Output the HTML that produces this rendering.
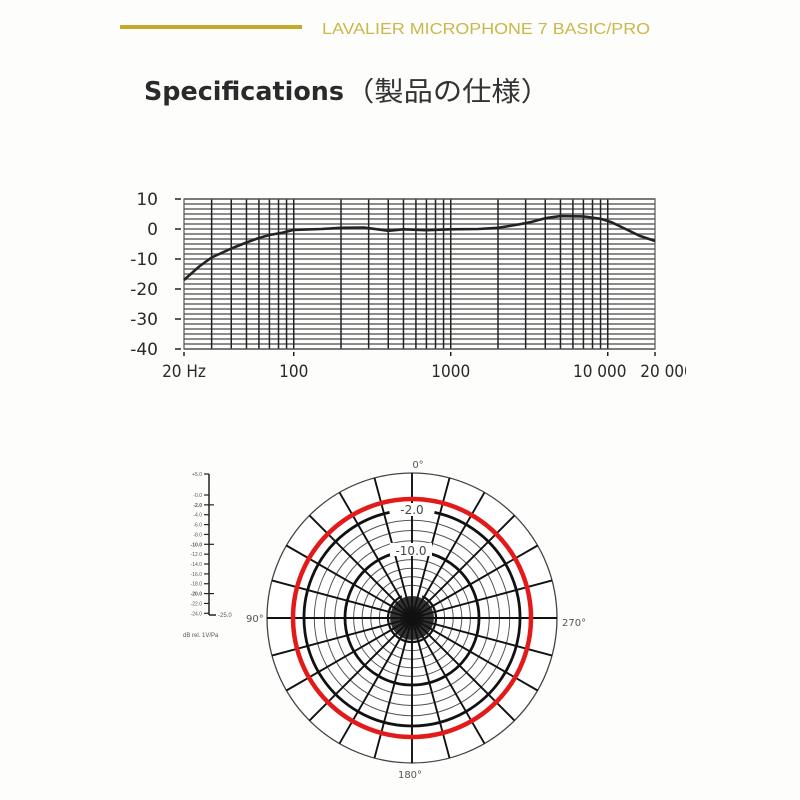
<!DOCTYPE html>
<html><head><meta charset="utf-8"><style>
html,body{margin:0;padding:0;background:#fff;width:800px;height:800px;overflow:hidden}
</style></head><body>
<svg width="800" height="800" viewBox="0 0 800 800" xmlns="http://www.w3.org/2000/svg">
<defs><clipPath id="cp"><rect x="0" y="0" width="686" height="800"/></clipPath></defs>
<rect width="800" height="800" fill="#fdfdfc"/>
<line x1="120" y1="27" x2="302" y2="27" stroke="#c4aa2a" stroke-width="4"/>
<text x="322" y="34" font-family="Liberation Sans, sans-serif" font-size="16" fill="#c9b84a" textLength="328" lengthAdjust="spacingAndGlyphs">LAVALIER MICROPHONE 7 BASIC/PRO</text>
<text x="144" y="100" font-family="DejaVu Sans, Liberation Sans, sans-serif" font-weight="bold" font-size="26" fill="#2a2a2a" textLength="200" lengthAdjust="spacingAndGlyphs">Specifications</text>
<text x="345" y="101" font-family="Liberation Sans, 'Noto Sans CJK JP', sans-serif" font-size="27" fill="#333" textLength="205" lengthAdjust="spacingAndGlyphs">（製品の仕様）</text>
<g id="freq" clip-path="url(#cp)"></g>
<g id="polar"></g>
</svg>
<script>
const NS="http://www.w3.org/2000/svg";
function el(p,t,a,txt){const e=document.createElementNS(NS,t);for(const k in a)e.setAttribute(k,a[k]);if(txt!==undefined)e.textContent=txt;p.appendChild(e);return e;}
const F=document.getElementById('freq');
const X=f=>184+157*Math.log10(f/20), Y=d=>199+(10-d)*3;
for(let y=199;y<=349.5;y+=5) el(F,'line',{x1:184,x2:655,y1:y,y2:y,stroke:'#666','stroke-width':1.4});
const vs=[30,40,50,60,70,80,90,100,200,300,400,500,600,700,800,900,1000,2000,3000,4000,5000,6000,7000,8000,9000,10000];
vs.forEach(f=>el(F,'line',{x1:X(f),x2:X(f),y1:199,y2:349,stroke:'#222','stroke-width':1.5}));
el(F,'rect',{x:184,y:199,width:471,height:150,fill:'none',stroke:'#555','stroke-width':1.2});
[10,0,-10,-20,-30,-40].forEach(d=>{el(F,'line',{x1:175,x2:181,y1:Y(d),y2:Y(d),stroke:'#222','stroke-width':1.5});
 el(F,'text',{x:158,y:Y(d)+6,'text-anchor':'end','font-family':'DejaVu Sans, sans-serif','font-size':17,fill:'#2a2a2a'},String(d));});
[[20,'20 Hz',0],[100,'100',0],[1000,'1000',0],[10000,'10 000',-8],[20000,'20 000',12]].forEach(([f,t,o])=>{
 el(F,'line',{x1:X(f),x2:X(f),y1:352,y2:356,stroke:'#222','stroke-width':1.5});
 el(F,'text',{x:X(f)+o,y:377,'text-anchor':'middle','font-family':'DejaVu Sans Condensed, DejaVu Sans, sans-serif','font-size':17,fill:'#2a2a2a'},t);});
const pts=[[20,-17],[25,-12.5],[30,-9.5],[40,-6.5],[50,-4.5],[60,-3],[70,-2],[85,-1.2],[100,-0.3],[150,0],[200,0.4],[280,0.5],[350,-0.2],[400,-0.6],[500,-0.1],[700,-0.4],[1000,-0.1],[1500,0],[2000,0.4],[2700,1.5],[3300,2.4],[4000,3.6],[5000,4.3],[7000,4.2],[9000,3.4],[10500,2.3],[13000,0],[16000,-2.3],[20000,-4]];
let d='';pts.forEach((p,i)=>{d+=(i?'L':'M')+X(p[0]).toFixed(1)+','+Y(p[1]).toFixed(1);});
el(F,'path',{d:d,fill:'none',stroke:'#222','stroke-width':2.6,'stroke-linejoin':'round'});

const P=document.getElementById('polar');const cx=412,cy=618;
function R(db){const t=[[-25,4],[-20,24],[-10,67],[-2,108],[0,119],[5,145]];
 for(let i=0;i<t.length-1;i++){if(db<=t[i+1][0]){const a=t[i],b=t[i+1];return a[1]+(db-a[0])/(b[0]-a[0])*(b[1]-a[1]);}}return 145;}
el(P,'circle',{cx:cx,cy:cy,r:145,fill:'#fff',stroke:'#444','stroke-width':1.3});
for(let db=-24;db<=-4;db+=2){if(db==-10||db==-20)continue;el(P,'circle',{cx:cx,cy:cy,r:R(db),fill:'none',stroke:'#555','stroke-width':1});}
el(P,'circle',{cx:cx,cy:cy,r:22,fill:'#333'});
el(P,'circle',{cx:cx,cy:cy,r:12,fill:'#222'});
for(let a=0;a<360;a+=15){const r=a*Math.PI/180;el(P,'line',{x1:cx,y1:cy,x2:cx+145*Math.sin(r),y2:cy-145*Math.cos(r),stroke:'#111','stroke-width':1.9});}
function arcGap(r,gapDeg,w){const g=gapDeg*Math.PI/180;const x1=cx+r*Math.sin(g),y1=cy-r*Math.cos(g),x2=cx-r*Math.sin(g);
 el(P,'path',{d:`M${x1},${y1} A${r},${r} 0 1 1 ${x2},${y1}`,fill:'none',stroke:'#111','stroke-width':w});}
arcGap(108,12,2.8);arcGap(67,16,2.8);arcGap(24,25,2.2);
el(P,'rect',{x:cx-19,y:cy-115,width:38,height:13,fill:'#fff'});
el(P,'text',{x:cx,y:cy-104,'text-anchor':'middle','font-family':'DejaVu Sans, sans-serif','font-size':12,fill:'#444'},'-2.0');
el(P,'rect',{x:cx-22,y:cy-75,width:42,height:13,fill:'#fff'});
el(P,'text',{x:cx-1,y:cy-63,'text-anchor':'middle','font-family':'DejaVu Sans, sans-serif','font-size':12,fill:'#444'},'-10.0');
el(P,'circle',{cx:cx,cy:cy,r:119,fill:'none',stroke:'#e41a1a','stroke-width':4.5});
const lab={'font-family':'DejaVu Sans, sans-serif','font-size':10,fill:'#555'};
el(P,'text',Object.assign({x:418,y:468,'text-anchor':'middle'},lab),'0°');
el(P,'text',Object.assign({x:246,y:622},lab),'90°');
el(P,'text',Object.assign({x:562,y:626},lab),'270°');
el(P,'text',Object.assign({x:410,y:778,'text-anchor':'middle'},lab),'180°');
el(P,'line',{x1:209,y1:474,x2:209,y2:615,stroke:'#222','stroke-width':1.5});
el(P,'line',{x1:209,y1:615,x2:216,y2:615,stroke:'#222','stroke-width':1.5});
const sy=db=>495-db*4.93;
el(P,'line',{x1:204,y1:474,x2:209,y2:474,stroke:'#222','stroke-width':1.2});
el(P,'text',{x:202,y:476,'text-anchor':'end','font-family':'Liberation Sans, sans-serif','font-size':5,fill:'#555'},'+5.0');
for(let db=0;db>=-24;db-=2){const y=sy(db);const big=(db==-2||db==-10||db==-20);
 el(P,'line',{x1:204,y1:y,x2:big?214:209,y2:y,stroke:'#222','stroke-width':1.2});
 el(P,'text',{x:202,y:y+2,'text-anchor':'end','font-family':'Liberation Sans, sans-serif','font-size':5,'font-weight':big?'bold':'normal',fill:'#555'},(db==0?'-0.0':db.toFixed(1)));}
el(P,'text',{x:218,y:617,'font-family':'Liberation Sans, sans-serif','font-size':6,fill:'#555'},'-25.0');
el(P,'text',{x:183,y:637,'font-family':'Liberation Sans, sans-serif','font-size':6,fill:'#555'},'dB rel. 1V/Pa');
</script>
</body></html>
